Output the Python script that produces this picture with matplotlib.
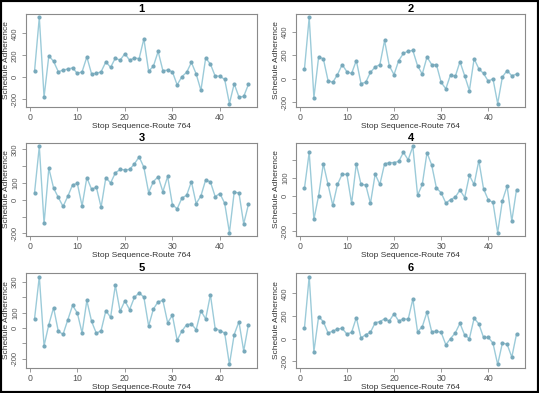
import matplotlib
matplotlib.use("Agg")
import matplotlib.pyplot as plt
from matplotlib.patches import Rectangle

plt.rcParams['font.family'] = ['Liberation Sans', 'DejaVu Sans']

stops = list(range(1, 47))

s1 = [57, 545, -180, 195, 145, 50, 65, 75, 85, 35, 50, 185, 30, 35, 50, 140, 90, 175, 155, 215,
      155, 175, 170, 350, 55, 100, 235, 60, 65, 50, -70, 5, 45, 135, 30, -120, 175, 120, 10, 10,
      -20, -240, -60, -180, -175, -65]
s2 = [85, 520, -160, 185, 170, -15, -30, 35, 120, 60, 45, 155, -40, -30, 55, 100, 120, 325, 110, 35,
      155, 215, 235, 240, 110, 40, 185, 120, 120, -30, -85, 35, 20, 145, 25, -100, 170, 85, 45, -20,
      0, -210, 15, 70, 25, 40]
s3 = [43, 317, -141, 188, 70, 14, -40, 21, 89, 97, -37, 132, 62, 75, -44, 132, 100, 160, 180, 178,
      180, 213, 255, 193, 43, 108, 137, 48, 139, -29, -54, 10, 27, 108, -23, 23, 118, 106, 19, 37,
      -21, -195, 44, 41, -143, -27]
s4 = [42, 242, -133, 0, 178, 62, -55, 62, 120, 118, -44, 178, 62, 60, -44, 120, 62, 178, 184, 185,
      191, 242, 200, 275, 2, 62, 240, 171, 42, 16, -42, -22, -9, 31, -11, 113, 62, 196, 38, -24,
      -38, -207, -29, 53, -142, 33]
s5 = [61, 337, -117, 22, 133, -22, -41, 54, 148, 98, -33, 180, 43, -35, -17, 113, 70, 280, 109, 178,
      120, 200, 230, 202, 13, 124, 172, 180, 35, 83, -80, -20, 22, 26, -11, 113, 59, 217, -4, -17,
      -33, -239, -43, 41, -150, 22]
s6 = [95, 550, -115, 195, 150, 50, 65, 85, 90, 40, 55, 185, 5, 35, 55, 140, 150, 175, 155, 220,
      155, 175, 170, 350, 60, 105, 235, 60, 65, 55, -55, 0, 50, 135, 30, 0, 180, 130, 10, 10,
      -40, -230, -40, -50, -165, 40]

titles = ["1", "2", "3", "4", "5", "6"]
series = [s1, s2, s3, s4, s5, s6]
yticks = [
    ([-200, 0, 200, 400], ["-200", "0", "200", "400"]),
    ([-200, 0, 200, 400], ["-200", "0", "200", "400"]),
    ([-200, -100, 0, 100, 200, 300], ["-200", "", "0", "100", "", "300"]),
    ([-200, -100, 0, 100, 200], ["-200", "", "0", "100", ""]),
    ([-200, -100, 0, 100, 200, 300], ["-200", "", "0", "100", "", "300"]),
    ([-200, 0, 200, 400], ["-200", "0", "200", "400"]),
]
xlabel = "Stop Sequence-Route 764"
ylabel = "Schedule Adherence"

W, H = 539, 393
fig = plt.figure(figsize=(W / 100, H / 100), dpi=100)
fig.patch.set_facecolor('white')

lefts = [26, 296]
widths = [231, 229]
rows = [(14, 107), (143, 236), (273, 368)]

tick_col = '#555555'
spine_col = '#8a8a8a'
line_col = '#9ccbd9'
mark_col = '#78a9bb'

for i, (t, s) in enumerate(zip(titles, series)):
    r, c = divmod(i, 2)
    top, bot = rows[r]
    ax = fig.add_axes([lefts[c] / W, 1 - bot / H, widths[c] / W, (bot - top) / H])
    ax.plot(stops, s, color=line_col, lw=1.0, marker='o', ms=2.0,
            mfc=mark_col, mec=mark_col)
    ax.margins(x=0.04, y=0.04)
    ax.set_xticks([0, 10, 20, 30, 40])
    yt, yl = yticks[i]
    ax.set_yticks(yt)
    ax.set_yticklabels(yl, rotation=90, va='center')
    ax.tick_params(axis='x', labelsize=6.3, pad=1.5)
    ax.tick_params(axis='y', labelsize=5.5, pad=2)
    ax.tick_params(axis='both', colors=tick_col, length=3, width=0.6)
    ax.tick_params(axis='both', color=spine_col)
    for sp in ax.spines.values():
        sp.set_color(spine_col)
        sp.set_linewidth(0.8)
    ax.set_title(t, fontsize=8, fontweight='bold', pad=1.5)
    ax.set_xlabel(xlabel, fontsize=6, color='#333333', labelpad=0.5)
    ax.set_ylabel(ylabel, fontsize=6, color='#333333', labelpad=1.5)

fig.add_artist(Rectangle((0, 0), 1, 1, transform=fig.transFigure, fill=False,
                         edgecolor='black', lw=3))

fig.savefig("out.png", dpi=100)
